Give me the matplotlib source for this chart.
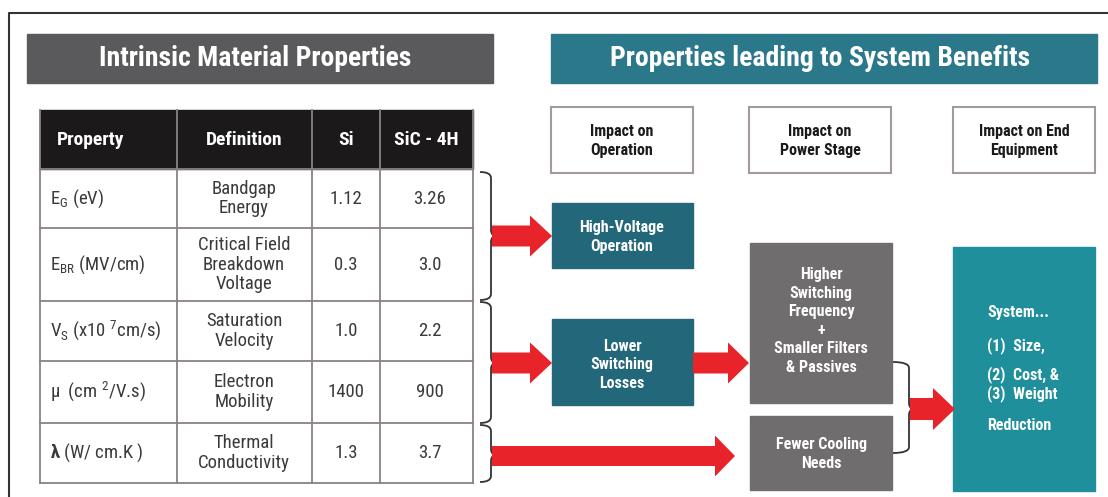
import matplotlib.pyplot as plt
from matplotlib.patches import Rectangle, Polygon, PathPatch
from matplotlib.path import Path

plt.rcParams['font.family'] = ['Roboto Condensed', 'DejaVu Sans']
plt.rcParams['mathtext.fontset'] = 'custom'
plt.rcParams['mathtext.rm'] = 'Roboto Condensed'
plt.rcParams['mathtext.bf'] = 'Roboto Condensed:bold'

# table content
col_heads = ['Property', 'Definition', 'Si', 'SiC - 4H']
props = [r'E$_\mathregular{G}$ (eV)', r'E$_\mathregular{BR}$ (MV/cm)',
         r'V$_\mathregular{S}$ (x10$^\mathregular{\ 7}$cm/s)', r'$\mathregular{\mu}$  (cm$^\mathregular{\ 2}$/V.s)',
         r'$\mathbf{\lambda}$ (W/ cm.K )']
defs = ['Bandgap\nEnergy', 'Critical Field\nBreakdown\nVoltage', 'Saturation\nVelocity',
        'Electron\nMobility', 'Thermal\nConductivity']
si_vals = ['1.12', '0.3', '1.0', '1400', '1.3']
sic_vals = ['3.26', '3.0', '2.2', '900', '3.7']

# right side labels
stage_heads = ['Impact on\nOperation', 'Impact on\nPower Stage', 'Impact on End\nEquipment']
op_labels = ['High-Voltage\nOperation', 'Lower\nSwitching\nLosses']
ps_labels = ['Higher\nSwitching\nFrequency\n+\nSmaller Filters\n& Passives', 'Fewer Cooling\nNeeds']
end_lines = ['System...', '(1)  Size,', '(2)  Cost, &', '(3)  Weight', 'Reduction']

RED = '#e8232a'
GRAY_T = '#5a5a5c'
TEAL_T = '#2a788a'
TEAL_D = '#22677a'
GRAY_B = '#6f6d6e'
TEAL_L = '#1f909b'
LINE = '#8a8282'
TXT = '#3a3a3a'

fig = plt.figure(figsize=(11.08, 4.97), dpi=100)
ax = fig.add_axes([0, 0, 1, 1])
ax.set_xlim(0, 1108)
ax.set_ylim(497, 0)
ax.axis('off')

# frame
ax.plot([9, 9, 1108], [497, 13, 13], color='#333333', lw=1.5)

# title bars
ax.add_patch(Rectangle((27, 34), 466, 49, color=GRAY_T))
ax.text(255, 58.5, 'Intrinsic Material Properties', color='white', fontsize=20,
        fontweight='bold', ha='center', va='center')
ax.add_patch(Rectangle((551, 34), 546, 49, color=TEAL_T))
ax.text(820, 58.5, 'Properties leading to System Benefits', color='white', fontsize=20,
        fontweight='bold', ha='center', va='center')

# table
cols = [40, 177, 312, 380, 473]
rows = [110, 169, 228, 301, 361, 423, 483]
ax.add_patch(Rectangle((cols[0], rows[0]), cols[-1] - cols[0], rows[1] - rows[0], color='#1b1919'))
for x in cols:
    ax.plot([x, x], [rows[0], rows[-1]], color=LINE, lw=1.3)
for y in rows[1:]:
    ax.plot([cols[0], cols[-1]], [y, y], color=LINE, lw=1.3)

hx = [57, 244, 346, 426]
for i, h in enumerate(col_heads):
    ax.text(hx[i], 140, h, color='white', fontsize=14, fontweight='bold',
            ha='left' if i == 0 else 'center', va='center')

for i in range(len(props)):
    yc = (rows[i + 1] + rows[i + 2]) / 2
    ax.text(50, yc, props[i], color=TXT, fontsize=13.5, ha='left', va='center')
    ax.text(244, yc, defs[i], color=TXT, fontsize=13.5, ha='center', va='center',
            linespacing=1.12)
    ax.text(346, yc, si_vals[i], color=TXT, fontsize=13.5, ha='center', va='center')
    ax.text(430, yc, sic_vals[i], color=TXT, fontsize=13.5, ha='center', va='center')


def brace(x0, x1, y0, y1, ym, tip):
    r = min(6, (y1 - y0) / 6)
    verts = [(x0, y0), (x1, y0), (x1, y0 + r),
             (x1, ym - r), (x1, ym), (tip, ym),
             (x1, ym), (x1, ym + r),
             (x1, y1 - r), (x1, y1), (x0, y1)]
    codes = [Path.MOVETO, Path.CURVE3, Path.CURVE3,
             Path.LINETO, Path.CURVE3, Path.CURVE3,
             Path.CURVE3, Path.CURVE3,
             Path.LINETO, Path.CURVE3, Path.CURVE3]
    ax.add_patch(PathPatch(Path(verts, codes), fill=False, ec='#333333', lw=1.3))


def arrow(x0, x1, yc, sh, hh, hl):
    pts = [(x0, yc - sh / 2), (x1 - hl, yc - sh / 2), (x1 - hl, yc - hh / 2), (x1, yc),
           (x1 - hl, yc + hh / 2), (x1 - hl, yc + sh / 2), (x0, yc + sh / 2)]
    ax.add_patch(Polygon(pts, closed=True, color=RED, lw=0))


brace(480, 491, 172, 300, 236, 497)
brace(480, 491, 302, 423, 363, 497)
brace(480, 491, 425, 482, 455, 497)
brace(893, 909, 362, 453, 409, 915)

# stage header boxes
for x, lab in zip([551, 749, 953], stage_heads):
    ax.add_patch(Rectangle((x, 107), 142, 66, fc='white', ec='#a39a9a', lw=1.5))
    ax.text(x + 71, 141, lab, color='#1a1a1a', fontsize=11.5, fontweight='bold',
            ha='center', va='center', linespacing=1.3)

# operation boxes
ax.add_patch(Rectangle((552, 203), 141, 65, color=TEAL_D))
ax.text(622, 237, op_labels[0], color='white', fontsize=11.5, fontweight='bold',
        ha='center', va='center', linespacing=1.3)
ax.add_patch(Rectangle((552, 319), 141, 86, color=TEAL_D))
ax.text(622, 365, op_labels[1], color='white', fontsize=11.5, fontweight='bold',
        ha='center', va='center', linespacing=1.3)

# power stage boxes
ax.add_patch(Rectangle((750, 243), 142, 160, color=GRAY_B))
ax.text(821, 321, ps_labels[0], color='white', fontsize=11.5, fontweight='bold',
        ha='center', va='center', linespacing=1.3)
ax.add_patch(Rectangle((750, 416), 142, 74, color=GRAY_B))
ax.text(821, 454, ps_labels[1], color='white', fontsize=11.5, fontweight='bold',
        ha='center', va='center', linespacing=1.3)

# end equipment box
ax.add_patch(Rectangle((953, 247), 142, 244, color=TEAL_L))
for y, t in zip([313, 346, 375, 394, 425], end_lines):
    ax.text(987, y, t, color='white', fontsize=11.5, fontweight='bold', ha='left', va='center')

# arrows
arrow(492, 552, 236, 21, 41, 22)
arrow(492, 552, 363, 21, 41, 22)
arrow(492, 735, 456, 20, 41, 20)
arrow(693, 749, 363, 21, 41, 21)
arrow(910, 955, 409, 22, 42, 22)

fig.savefig('out.png', dpi=100, facecolor='white')
